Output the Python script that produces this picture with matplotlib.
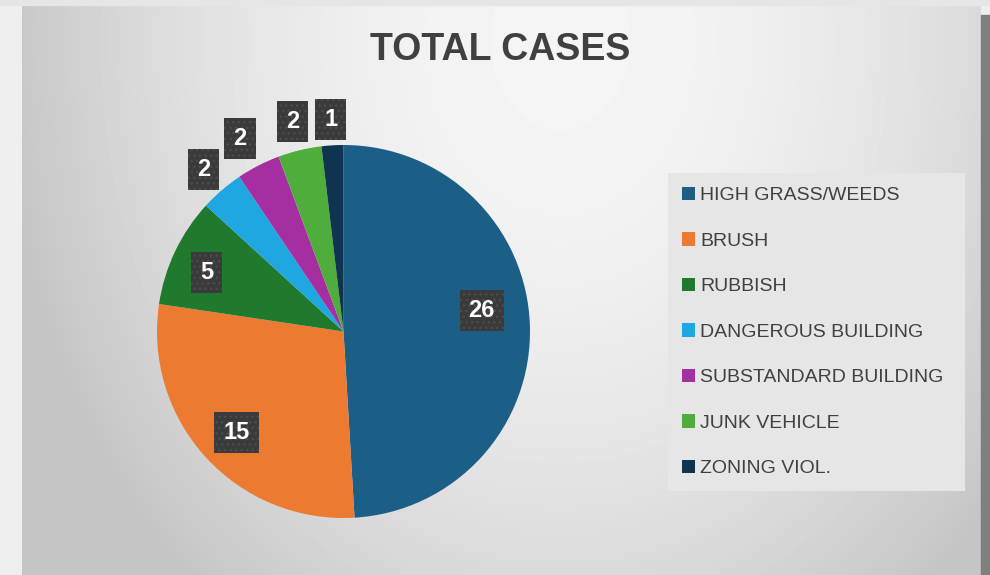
import numpy as np
import matplotlib
matplotlib.use("Agg")
import matplotlib.pyplot as plt
from matplotlib.patches import Rectangle

categories = ["HIGH GRASS/WEEDS", "BRUSH", "RUBBISH", "DANGEROUS BUILDING",
              "SUBSTANDARD BUILDING", "JUNK VEHICLE", "ZONING VIOL."]
cases = [26, 15, 5, 2, 2, 2, 1]
colors = ["#1b5f86", "#ec7b31", "#1f7a2e", "#1ea7e0", "#a52ea1", "#4fae3b", "#10344f"]

# label placement (fraction of radius, small angle tweak in degrees)
label_dist = [0.75, 0.79, 0.80, 1.15, 1.175, 1.16, 1.14]
label_nudge = [7, 1, 2, 0, 1, 0, 0]

plt.rcParams['font.family'] = ['Liberation Sans', 'DejaVu Sans']

W, H = 990, 575
fig = plt.figure(figsize=(W / 100, H / 100), dpi=100, facecolor="#efefef")
ax = fig.add_axes([0, 0, 1, 1])

# background panel with soft gradient
yy, xx = np.mgrid[5:575, 22:981]
d = np.sqrt(((xx - 560) / 560.0) ** 2 + ((yy - 40) / 720.0) ** 2)
d = np.clip(d, 0, 1)
shade = 0.96 - 0.19 * d ** 2
ax.imshow(shade, cmap="gray", vmin=0, vmax=1, extent=(22, 981, 0, 570),
          zorder=0, interpolation="bilinear")
ax.add_patch(Rectangle((0, 570), W, 5, color="#e6e6e6", zorder=0))
ax.add_patch(Rectangle((981, 0), 9, 560, color="#7f7f7f", zorder=0))

cx, cy, r = 343.5, 575 - 331.5, 186.5
wedges, _ = ax.pie(cases, colors=colors, startangle=90, counterclock=False,
                   center=(cx, cy), radius=r, wedgeprops=dict(linewidth=0))
for w in wedges:
    w.set_zorder(2)

for w, v, ld, nd in zip(wedges, cases, label_dist, label_nudge):
    ang = np.deg2rad((w.theta1 + w.theta2) / 2 + nd)
    x = cx + ld * r * np.cos(ang)
    y = cy + ld * r * np.sin(ang)
    ax.text(x, y, str(v), ha="center", va="center", fontsize=17,
            fontweight="bold", color="white", zorder=5,
            bbox=dict(boxstyle="square,pad=0.38", fc="#3a3a3a",
                      ec="#4c4c4c", lw=0, hatch="..."))

ax.text(500, 575 - 50, "TOTAL CASES", ha="center", va="center",
        fontsize=27, fontweight="bold", color="#404040")

leg = ax.legend(wedges, categories, loc="upper left", mode="expand",
                bbox_to_anchor=(668 / W, (575 - 490) / H, 297 / W, 317 / H),
                bbox_transform=fig.transFigure, fontsize=14,
                handlelength=0.68, handleheight=0.68, handletextpad=0.25,
                labelspacing=1.44, borderpad=0.72, borderaxespad=0,
                frameon=True, fancybox=False, framealpha=1,
                facecolor="#e6e6e6", edgecolor="none", labelcolor="#404040")

ax.set_xlim(0, W)
ax.set_ylim(0, H)
ax.set_axis_off()

fig.savefig("out.png", dpi=100, facecolor=fig.get_facecolor())
